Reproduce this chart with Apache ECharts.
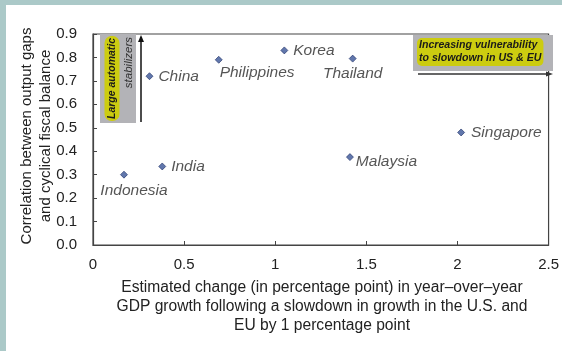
<!DOCTYPE html>
<html><head><meta charset="utf-8">
<script src="https://cdn.jsdelivr.net/npm/echarts@6/dist/echarts.min.js"></script>
<style>html,body{margin:0;padding:0;background:#fff}#c{width:562px;height:351px}</style>
</head><body><div id="c"></div>
<script>
const countries = ['Indonesia','India','China','Philippines','Korea','Thailand','Malaysia','Singapore'];
const xValues = [0.17, 0.38, 0.31, 0.69, 1.05, 1.425, 1.41, 2.02];
const yValues = [0.30, 0.335, 0.72, 0.79, 0.83, 0.795, 0.375, 0.48];
const xTicks = ['0','0.5','1','1.5','2','2.5'];
const yTicks = ['0.0','0.1','0.2','0.3','0.4','0.5','0.6','0.7','0.8','0.9'];

const labelStyle = {
  'Indonesia': {position:'bottom', distance:4, offset:[10,0]},
  'India': {position:'right', distance:5},
  'China': {position:'right', distance:5},
  'Philippines': {position:'right', distance:5, offset:[-8,13]},
  'Korea': {position:'right', distance:5},
  'Thailand': {position:'bottom', distance:3},
  'Malaysia': {position:'right', distance:2, offset:[0,5]},
  'Singapore': {position:'right', distance:6}
};

const chart = echarts.init(document.getElementById('c'), null, {renderer:'canvas'});
const data = countries.map((c,i)=>({
  name:c, value:[xValues[i], yValues[i]],
  label: Object.assign({show:true, formatter:c}, labelStyle[c])
}));
const font = 'Liberation Sans, Arial, sans-serif';
chart.setOption({
  animation:false,
  backgroundColor:'#fff',
  grid:{left:93, right:9, top:34, bottom:106, show:true, borderColor:'#444', borderWidth:1.2, backgroundColor:'transparent'},
  xAxis:{type:'value', min:0, max:2.5, interval:0.5,
    axisLine:{show:true, lineStyle:{color:'#444', width:1.2}},
    axisTick:{show:true, inside:true, length:4, lineStyle:{color:'#444'}},
    splitLine:{show:false},
    axisLabel:{fontFamily:font, fontSize:15, color:'#222', margin:12,
      formatter:(v)=>xTicks[Math.round(v/0.5)]}},
  yAxis:{type:'value', min:0, max:0.9, interval:0.1,
    axisLine:{show:true, lineStyle:{color:'#444', width:1.2}},
    axisTick:{show:true, inside:true, length:4, lineStyle:{color:'#444'}},
    splitLine:{show:false},
    axisLabel:{fontFamily:font, fontSize:15, color:'#222', margin:16,
      formatter:(v)=>yTicks[Math.round(v/0.1)]}},
  series:[{type:'scatter', symbol:'diamond', symbolSize:7,
    itemStyle:{color:'#3a5597', borderColor:'#1e2f66', borderWidth:0.8},
    label:{fontFamily:font, fontSize:15.5, fontStyle:'italic', color:'#2a2a2a'},
    data:data}],
  graphic:[
    {type:'rect', shape:{x:0,y:0,width:6,height:351}, style:{fill:'#abc9c8'}, silent:true},
    {type:'rect', shape:{x:0,y:0,width:562,height:5}, style:{fill:'#abc9c8'}, silent:true},
    // left annotation
    {type:'rect', shape:{x:100,y:34,width:36,height:89}, style:{fill:'#b3b3b7'}, z:10},
    {type:'text', x:112, y:121, rotation:Math.PI/2, z:11,
      style:{text:'Large automatic', fontFamily:font, fontSize:10.5, fontWeight:'bold', fontStyle:'italic',
        fill:'#1a1a1a', align:'left', verticalAlign:'middle',
        backgroundColor:'#cccc10', borderRadius:7, padding:[2,2,2,2]}},
    {type:'text', x:129, y:37, rotation:Math.PI/2, z:11,
      style:{text:'stabilizers', fontFamily:font, fontSize:11.5, fontStyle:'italic',
        fill:'#333', align:'right', verticalAlign:'middle'}},
    {type:'line', shape:{x1:141,y1:122,x2:141,y2:40}, style:{stroke:'#111', lineWidth:1.5}, z:10},
    {type:'polygon', shape:{points:[[141,35],[138,42],[144,42]]}, style:{fill:'#111'}, z:10},
    // right annotation
    {type:'rect', shape:{x:413,y:35,width:140,height:36}, style:{fill:'#b3b3b7'}, z:10},
    {type:'text', x:417, y:38, z:11,
      style:{text:'Increasing vulnerability\nto slowdown in US & EU', fontFamily:font, fontSize:10.6, fontWeight:'bold', fontStyle:'italic',
        fill:'#1a1a1a', align:'left', verticalAlign:'top', lineHeight:13,
        backgroundColor:'#cccc10', borderRadius:5, padding:[1,2,1,2]}},
    {type:'line', shape:{x1:418,y1:74,x2:548,y2:74}, style:{stroke:'#333', lineWidth:1.5}, z:10},
    {type:'polygon', shape:{points:[[553,74],[546,71.5],[546,76.5]]}, style:{fill:'#333'}, z:10},
    // axis titles
    {type:'text', x:36.5, y:136, rotation:Math.PI/2, z:11,
      style:{text:'Correlation between output gaps\nand cyclical fiscal balance', fontFamily:font, fontSize:15,
        fill:'#222', align:'center', verticalAlign:'middle', lineHeight:19}},
    {type:'text', x:322, y:307, z:11,
      style:{text:'Estimated change (in percentage point) in year\u2013over\u2013year\nGDP growth following a slowdown in growth in the U.S. and\nEU by 1 percentage point', fontFamily:font, fontSize:15.6,
        fill:'#222', align:'center', verticalAlign:'middle', lineHeight:19}}
  ]
});
</script></body></html>
